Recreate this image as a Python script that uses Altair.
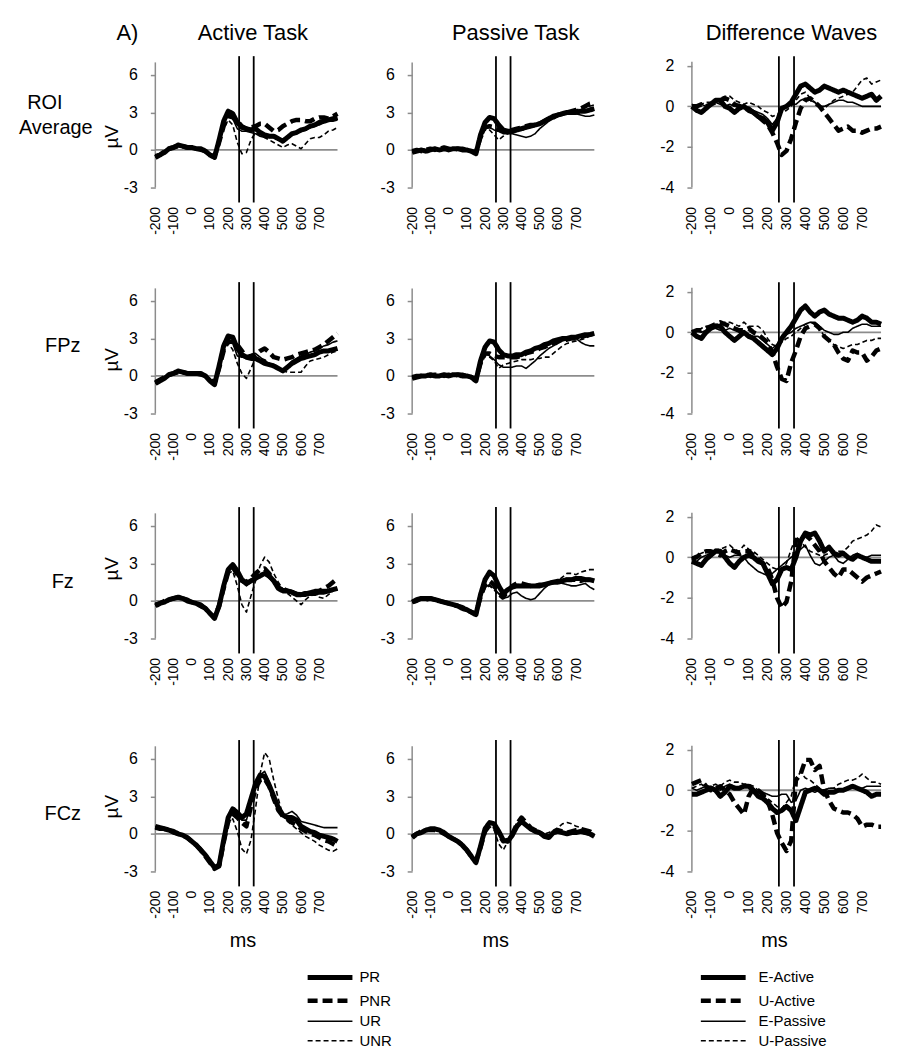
import altair as alt
import pandas as pd

FONT = "Liberation Sans"
GRAY = "#8c8c8c"

# ---------------- data ----------------
T = [-200, -175, -150, -125, -100, -75, -50, -25, 0, 25, 50, 75, 100, 125, 150, 175, 200,
     225, 250, 275, 300, 325, 350, 375, 400, 425, 450, 475, 500, 525, 550, 575, 600, 625,
     650, 675, 700, 725, 750, 775, 800]
X_TICKS = [-200, -100, 0, 100, 200, 300, 400, 500, 600, 700]
Y_TICKS_TASK = [-3, 0, 3, 6]
Y_TICKS_DIFF = [-4, -2, 0, 2]
STIM = [260, 340]
COL_TITLES = ["Active Task", "Passive Task", "Difference  Waves"]
TASK_SERIES = ["PR", "PNR", "UR", "UNR"]
DIFF_SERIES = ["E-Active", "U-Active", "E-Passive", "U-Passive"]

# ROI Average - Active
ROI_ACT_PR = [-0.6,-0.4,-0.2,0.1,0.2,0.4,0.3,0.2,0.2,0.1, 0.1,-0.1,-0.4,-0.6,0.8,2.3,3.1,2.9,2.2,1.8, 1.7,1.6,1.7,1.4,1.2,1.1,1.1,0.9,0.7,1.0, 1.3,1.4,1.6,1.7,1.9,2.0,2.2,2.3,2.4,2.5, 2.6]
ROI_ACT_PNR = [-0.5,-0.4,-0.1,0.1,0.2,0.3,0.3,0.2,0.2,0.1, 0.0,-0.1,-0.4,-0.5,0.6,1.9,2.7,2.6,2.3,1.9, 1.7,1.8,1.9,2.1,2.1,1.8,1.5,1.6,1.9,2.1, 2.3,2.4,2.4,2.3,2.3,2.5,2.6,2.6,2.5,2.7, 2.9]
ROI_ACT_UR = [-0.6,-0.3,-0.2,0.0,0.2,0.3,0.2,0.2,0.1,0.1, 0.1,-0.1,-0.4,-0.6,0.7,2.1,2.8,2.5,1.7,1.5, 1.5,1.4,1.3,1.1,1.0,1.0,1.0,0.9,0.9,1.0, 1.2,1.3,1.5,1.6,1.8,1.9,2.0,2.2,2.3,2.3, 2.4]
ROI_ACT_UNR = [-0.5,-0.3,-0.1,0.0,0.1,0.3,0.2,0.1,0.1,0.0, 0.0,-0.2,-0.4,-0.5,0.5,1.7,2.4,2.0,0.6,-0.3, -0.2,0.8,1.4,1.2,1.0,0.8,0.6,0.4,0.2,0.4, 0.5,0.3,0.1,0.5,0.9,1.0,1.0,1.2,1.5,1.6, 1.8]
# ROI Average - Passive
ROI_PAS_PR = [-0.2,-0.1,0.0,-0.1,0.0,0.1,0.0,0.1,0.0,0.1, 0.1,0.0,0.0,-0.1,-0.3,1.2,2.2,2.6,2.5,2.0, 1.6,1.5,1.5,1.6,1.7,1.8,1.9,2.0,2.1,2.3, 2.5,2.7,2.8,2.9,3.0,3.0,3.0,3.1,3.1,3.2, 3.3]
ROI_PAS_PNR = [-0.1,0.0,-0.1,0.0,0.1,0.0,0.1,0.2,0.1,0.0, 0.1,0.1,0.0,-0.1,-0.2,1.0,1.8,1.9,1.8,1.6, 1.5,1.5,1.6,1.7,1.8,1.9,2.0,2.0,2.1,2.3, 2.5,2.6,2.8,2.9,3.0,3.1,3.2,3.3,3.5,3.7, 3.8]
ROI_PAS_UR = [-0.1,0.0,0.1,0.0,0.0,0.1,0.0,0.0,0.1,0.1, 0.0,0.0,0.0,-0.1,-0.2,0.9,1.7,1.8,1.6,1.5, 1.3,1.3,1.3,1.2,1.1,1.0,1.1,1.3,1.7,2.0, 2.3,2.5,2.7,2.8,2.9,2.9,2.9,2.8,2.7,2.7, 2.8]
ROI_PAS_UNR = [-0.2,-0.1,0.0,0.1,0.0,0.0,0.1,0.2,0.1,0.0, 0.0,0.1,0.0,-0.1,-0.3,0.8,1.6,1.6,1.2,0.8, 1.1,1.3,1.4,1.5,1.6,1.7,1.8,1.9,2.1,2.3, 2.5,2.7,2.8,2.9,3.0,3.1,3.2,3.3,3.4,3.5, 3.6]
# ROI Average - Difference
ROI_DIF_EA = [0.0,-0.2,-0.3,-0.1,0.1,0.3,0.3,0.0,-0.1,-0.3, -0.1,0.0,-0.2,-0.3,-0.5,-0.6,-0.8,-1.2,-0.8,-0.1, 0.0,0.2,0.6,1.0,1.1,0.9,0.7,0.8,1.0,0.9, 0.8,0.7,0.8,0.7,0.6,0.5,0.4,0.5,0.6,0.3, 0.5]
ROI_DIF_UA = [0.0,0.0,0.1,0.0,0.1,0.2,0.3,0.4,0.3,0.1, 0.0,-0.1,-0.1,-0.3,-0.5,-0.7,-0.9,-1.3,-1.8,-2.4, -2.2,-1.6,-0.8,-0.1,0.3,0.4,0.2,0.0,-0.3,-0.6, -0.9,-1.2,-1.1,-1.0,-1.2,-1.2,-1.3,-1.2,-1.1,-1.1, -1.0]
ROI_DIF_EP = [-0.1,0.0,0.1,0.0,0.1,0.2,0.1,0.0,0.1,0.0, 0.1,0.0,-0.1,-0.2,-0.3,-0.4,-0.6,-0.9,-0.6,-0.2, 0.0,0.1,0.1,0.3,0.4,0.3,0.2,0.0,0.0,0.1, 0.2,0.3,0.3,0.2,0.2,0.1,0.0,0.0,0.0,0.0, 0.0]
ROI_DIF_UP = [0.1,0.0,0.1,0.2,0.2,0.3,0.4,0.5,0.5,0.3, 0.2,0.1,0.2,0.1,0.0,-0.2,-0.3,-0.5,-0.4,-0.3, -0.2,0.0,0.3,0.6,0.7,0.4,0.2,0.0,-0.1,0.1, 0.3,0.4,0.5,0.6,0.7,1.0,1.3,1.4,1.1,1.2, 1.3]

# FPz - Active
FPZ_ACT_PR = [-0.6,-0.4,-0.2,0.1,0.2,0.4,0.3,0.2,0.2,0.2, 0.2,0.0,-0.4,-0.7,0.8,2.4,3.2,3.1,2.2,1.7, 1.5,1.4,1.4,1.2,1.0,0.9,0.8,0.6,0.4,0.7, 1.0,1.2,1.4,1.5,1.6,1.7,1.9,2.0,2.0,2.1, 2.2]
FPZ_ACT_PNR = [-0.5,-0.3,-0.1,0.1,0.2,0.3,0.3,0.2,0.2,0.2, 0.1,0.0,-0.3,-0.6,0.6,2.0,2.8,2.7,2.5,2.0, 1.5,1.6,1.7,2.0,2.2,1.9,1.5,1.4,1.3,1.4, 1.5,1.7,1.8,1.9,2.0,2.1,2.3,2.5,2.8,3.1, 3.4]
FPZ_ACT_UR = [-0.6,-0.4,-0.2,0.0,0.1,0.3,0.3,0.2,0.2,0.1, 0.1,0.0,-0.4,-0.6,0.7,2.2,2.9,2.6,1.6,1.5, 1.5,1.7,1.8,1.5,1.2,1.0,0.9,0.7,0.5,0.8, 1.2,1.4,1.6,1.7,1.9,2.0,2.2,2.4,2.5,2.7, 2.8]
FPZ_ACT_UNR = [-0.5,-0.3,-0.1,0.0,0.1,0.3,0.2,0.1,0.1,0.1, 0.1,-0.1,-0.4,-0.6,0.5,1.9,2.6,2.1,1.0,0.2, -0.2,0.6,1.4,1.4,1.3,1.0,0.8,0.6,0.4,0.3, 0.3,0.3,0.3,0.8,1.2,1.3,1.4,1.5,1.7,1.9, 2.0]
# FPz - Passive
FPZ_PAS_PR = [-0.2,-0.1,0.0,0.0,0.1,0.0,0.0,0.1,0.0,0.1, 0.1,0.0,0.0,-0.1,-0.4,1.2,2.3,2.8,2.7,2.1, 1.7,1.6,1.6,1.7,1.7,1.9,2.0,2.2,2.3,2.5, 2.6,2.8,2.9,3.0,3.0,3.1,3.1,3.2,3.3,3.3, 3.4]
FPZ_PAS_PNR = [-0.1,0.0,0.0,0.1,0.0,0.1,0.1,0.0,0.1,0.0, 0.1,0.1,0.0,-0.1,-0.3,1.0,1.8,1.8,1.6,1.5, 1.5,1.5,1.5,1.5,1.6,1.8,1.9,2.0,2.2,2.3, 2.5,2.6,2.8,2.9,2.9,3.0,3.0,3.1,3.2,3.3, 3.5]
FPZ_PAS_UR = [-0.1,0.0,0.1,0.0,0.0,0.1,0.0,0.1,0.0,0.1, 0.0,0.0,0.0,-0.1,-0.3,0.9,1.8,1.6,1.3,0.9, 0.7,0.7,0.7,0.8,0.8,0.6,0.9,1.2,1.6,1.9, 2.2,2.4,2.6,2.8,2.9,3.0,3.0,2.7,2.5,2.4, 2.4]
FPZ_PAS_UNR = [-0.2,-0.1,0.0,0.1,0.0,0.0,0.1,0.1,0.0,0.0, 0.1,0.0,0.0,-0.1,-0.3,0.8,1.6,1.5,1.2,0.6, 0.9,1.0,1.1,1.2,1.3,1.3,1.3,1.4,1.4,1.5, 1.5,1.8,2.1,2.4,2.6,2.7,2.8,2.9,3.0,3.2, 3.3]
# FPz - Difference
FPZ_DIF_EA = [0.0,-0.2,-0.3,0.0,0.2,0.3,0.3,0.0,-0.2,-0.4, -0.2,0.0,-0.2,-0.3,-0.5,-0.7,-0.9,-1.1,-0.8,-0.3, 0.0,0.3,0.7,1.1,1.3,1.0,0.8,1.0,1.1,0.9, 0.8,0.7,0.7,0.6,0.5,0.6,0.8,0.7,0.5,0.5, 0.4]
FPZ_DIF_UA = [0.0,0.1,0.1,0.2,0.3,0.4,0.5,0.4,0.3,0.2, 0.1,0.1,0.2,0.0,-0.1,-0.3,-0.5,-1.0,-1.7,-2.3, -2.4,-1.5,-0.9,-0.2,0.2,0.3,0.4,0.2,-0.2,-0.4, -0.6,-1.0,-1.3,-1.4,-0.9,-1.0,-1.0,-1.4,-1.2,-0.9, -0.8]
FPZ_DIF_EP = [0.0,0.1,0.0,0.1,0.2,0.2,0.1,0.1,0.2,0.1, 0.0,0.0,-0.1,-0.2,-0.2,-0.4,-0.6,-0.8,-0.6,-0.3, -0.1,0.0,0.2,0.3,0.4,0.5,0.5,0.3,0.1,0.0, -0.1,-0.1,0.0,0.0,0.2,0.3,0.4,0.4,0.3,0.3, 0.3]
FPZ_DIF_UP = [0.1,0.0,0.2,0.3,0.3,0.4,0.4,0.5,0.5,0.4, 0.3,0.5,0.3,0.3,0.3,0.1,-0.3,-0.6,-0.7,-0.5, -0.3,-0.2,0.0,0.2,0.4,0.5,0.4,0.2,-0.2,-0.4, -0.6,-0.7,-0.8,-0.7,-0.6,-0.6,-0.5,-0.4,-0.4,-0.3, -0.3]

# Fz - Active
FZ_ACT_PR = [-0.4,-0.2,-0.1,0.1,0.2,0.3,0.2,0.0,-0.1,-0.2, -0.4,-0.6,-1.0,-1.4,-0.4,1.2,2.5,2.9,2.4,1.7, 1.4,1.6,1.8,2.0,2.2,2.0,1.6,1.0,0.8,0.8, 0.7,0.5,0.5,0.6,0.6,0.6,0.7,0.7,0.8,0.9, 1.0]
FZ_ACT_PNR = [-0.3,-0.2,0.0,0.1,0.2,0.3,0.2,0.1,-0.1,-0.2, -0.3,-0.6,-1.0,-1.3,-0.4,1.0,2.3,2.7,2.1,1.6, 1.5,1.8,2.2,2.5,2.6,2.2,1.6,1.2,1.0,0.8, 0.7,0.6,0.5,0.5,0.6,0.7,0.8,1.0,1.2,1.5, 1.8]
FZ_ACT_UR = [-0.4,-0.2,-0.1,0.1,0.1,0.3,0.2,0.0,-0.1,-0.3, -0.4,-0.7,-1.1,-1.4,-0.5,1.1,2.4,2.7,2.0,1.5, 1.2,1.5,1.9,2.0,2.1,1.8,1.5,1.2,1.0,0.9, 0.8,0.7,0.6,0.7,0.8,0.9,0.9,0.9,0.9,0.9, 0.9]
FZ_ACT_UNR = [-0.3,-0.2,0.0,0.1,0.2,0.3,0.2,0.1,-0.1,-0.2, -0.4,-0.6,-1.0,-1.3,-0.4,0.9,2.2,2.4,1.2,-0.3, -0.9,0.4,1.6,2.8,3.5,3.1,2.2,1.5,0.9,0.6, 0.3,0.0,-0.3,0.1,0.4,0.5,0.3,0.2,0.5,0.8, 1.0]
# Fz - Passive
FZ_PAS_PR = [-0.1,0.1,0.2,0.2,0.2,0.1,0.0,-0.1,-0.2,-0.3, -0.4,-0.6,-0.7,-0.9,-1.1,0.5,1.7,2.3,2.0,1.2, 0.6,0.9,1.1,1.2,1.2,1.2,1.2,1.2,1.2,1.3, 1.4,1.5,1.5,1.6,1.7,1.7,1.8,1.8,1.7,1.7, 1.6]
FZ_PAS_PNR = [-0.1,0.0,0.2,0.1,0.2,0.1,0.0,-0.1,-0.2,-0.3, -0.4,-0.5,-0.7,-0.9,-1.0,0.3,1.3,1.6,1.3,0.8, 0.3,0.8,1.2,1.4,1.4,1.3,1.2,1.2,1.3,1.3, 1.4,1.5,1.6,1.6,1.7,1.7,1.7,1.6,1.7,1.7, 1.7]
FZ_PAS_UR = [-0.1,0.1,0.1,0.2,0.1,0.1,0.0,-0.1,-0.2,-0.3, -0.4,-0.6,-0.7,-1.0,-1.0,0.3,1.1,1.3,1.0,0.6, 0.2,0.3,0.6,0.7,0.4,0.2,0.1,0.2,0.6,1.0, 1.3,1.4,1.5,1.4,1.3,1.2,1.2,1.3,1.4,1.1, 0.9]
FZ_PAS_UNR = [-0.1,0.0,0.1,0.2,0.2,0.1,0.0,-0.1,-0.2,-0.3, -0.4,-0.5,-0.7,-0.9,-0.9,0.3,1.0,1.2,0.9,0.4, 0.1,0.8,1.1,1.3,1.3,1.2,1.1,1.1,1.2,1.3, 1.4,1.5,1.6,1.9,2.2,2.2,2.1,2.3,2.4,2.5, 2.5]
# Fz - Difference
FZ_DIF_EA = [-0.2,-0.3,-0.4,-0.1,0.1,0.3,0.3,0.0,-0.3,-0.5, -0.2,0.0,0.1,0.0,-0.2,-0.3,-0.8,-1.3,-1.1,-0.6, -0.5,-0.6,0.0,0.8,1.2,1.1,1.2,0.8,0.3,0.5, 0.2,0.1,0.2,0.0,-0.1,0.1,0.0,-0.1,-0.2,-0.2, -0.2]
FZ_DIF_UA = [-0.1,0.0,0.2,0.3,0.3,0.2,0.1,0.3,0.4,0.3, 0.2,0.3,0.3,0.1,-0.1,-0.3,-0.5,-1.1,-2.0,-2.5, -2.2,-1.2,0.8,1.0,1.1,0.9,0.6,0.3,-0.2,-0.5, -0.8,-1.0,-0.6,-0.6,-0.8,-1.0,-1.2,-1.0,-0.9,-0.8, -0.7]
FZ_DIF_EP = [-0.1,-0.2,0.0,0.1,0.2,0.3,0.2,0.1,0.0,0.1, 0.1,0.0,-0.3,-0.5,-0.7,-0.8,-0.9,-0.8,-0.6,-0.4, -0.2,0.0,0.2,0.4,0.6,0.1,-0.3,-0.4,-0.2,0.0, 0.1,-0.2,-0.3,-0.1,0.1,0.2,0.0,0.0,0.1,0.1, 0.1]
FZ_DIF_UP = [0.0,0.1,0.2,0.3,0.3,0.4,0.4,0.5,0.6,0.4, 0.3,0.6,0.4,0.3,0.1,-0.1,-0.3,-0.5,-0.6,-0.6, -0.3,0.4,1.0,0.8,0.5,0.3,0.2,0.1,0.1,0.2, 0.3,0.3,0.3,0.5,0.8,0.9,1.0,1.1,1.3,1.6, 1.5]

# FCz - Active
FCZ_ACT_PR = [0.6,0.5,0.4,0.3,0.2,0.0,-0.1,-0.3,-0.6,-0.9, -1.3,-1.7,-2.2,-2.7,-2.5,-0.5,1.3,2.0,1.7,1.3, 1.6,2.8,4.0,4.7,4.6,3.9,3.0,2.1,1.5,1.3, 1.3,1.1,0.6,0.4,0.2,0.1,-0.1,-0.2,-0.3,-0.4, -0.6]
FCZ_ACT_PNR = [0.5,0.4,0.4,0.3,0.1,0.0,-0.1,-0.3,-0.6,-0.9, -1.3,-1.8,-2.3,-2.8,-2.6,-0.7,1.0,1.6,1.3,0.9, 0.6,2.2,3.6,4.3,4.4,3.8,2.8,1.9,1.4,1.2, 0.9,0.7,0.4,0.2,0.0,-0.1,-0.3,-0.5,-0.6,-0.8, -1.0]
FCZ_ACT_UR = [0.6,0.5,0.4,0.3,0.2,0.1,-0.1,-0.2,-0.5,-0.8, -1.2,-1.7,-2.2,-2.6,-2.5,-0.6,1.2,1.8,1.4,1.1, 1.1,2.4,3.8,4.7,5.0,4.2,3.1,2.0,1.5,1.6, 1.8,1.5,1.0,0.9,0.8,0.7,0.6,0.5,0.5,0.5, 0.5]
FCZ_ACT_UNR = [0.5,0.4,0.3,0.2,0.1,0.0,-0.2,-0.3,-0.6,-0.9, -1.3,-1.8,-2.3,-2.7,-2.5,-0.8,0.8,1.2,0.2,-1.2, -1.6,-0.5,2.0,4.8,6.5,6.0,4.3,2.8,1.5,1.0, 0.7,0.4,0.1,-0.2,-0.4,-0.6,-0.9,-1.1,-1.3,-1.4, -1.2]
# FCz - Passive
FCZ_PAS_PR = [-0.3,0.0,0.1,0.3,0.4,0.4,0.3,0.1,-0.2,-0.4, -0.6,-0.9,-1.3,-1.8,-2.3,-1.0,0.4,0.9,0.8,0.2, -0.5,-0.6,-0.1,0.6,1.0,0.7,0.4,0.2,0.1,-0.2, -0.3,0.1,0.2,0.1,0.0,0.1,0.1,0.2,0.1,0.0, -0.2]
FCZ_PAS_PNR = [-0.2,0.0,0.2,0.3,0.3,0.3,0.2,0.0,-0.2,-0.4, -0.6,-0.9,-1.3,-1.8,-2.2,-1.1,0.2,0.7,0.6,0.0, -0.6,-0.5,0.0,0.8,1.3,0.9,0.5,0.3,0.1,-0.1, -0.2,0.1,0.3,0.2,0.1,0.2,0.3,0.4,0.3,0.2, 0.0]
FCZ_PAS_UR = [-0.3,-0.1,0.1,0.2,0.3,0.3,0.2,0.0,-0.2,-0.4, -0.6,-1.0,-1.4,-1.9,-2.4,-1.2,0.3,0.8,0.7,0.1, -0.6,-0.7,-0.2,0.5,0.9,0.6,0.3,0.1,0.0,-0.3, -0.3,0.0,0.1,0.1,0.0,0.0,0.1,0.1,0.0,-0.1, -0.2]
FCZ_PAS_UNR = [-0.2,0.0,0.1,0.2,0.3,0.3,0.2,0.0,-0.2,-0.4, -0.7,-1.0,-1.4,-1.8,-2.2,-1.1,0.2,0.6,0.3,-0.8, -1.3,-0.6,0.2,0.9,1.1,0.8,0.5,0.3,0.2,0.0, 0.1,0.3,0.5,0.8,0.9,0.8,0.6,0.5,0.3,0.1, 0.0]
# FCz - Difference
FCZ_DIF_EA = [-0.2,-0.2,-0.1,0.0,0.1,0.0,-0.3,-0.1,0.2,0.1, 0.1,0.2,0.2,0.0,-0.3,-0.4,-0.6,-0.9,-1.1,-1.0, -0.8,-1.0,-1.5,-0.8,-0.1,0.0,0.1,0.0,-0.2,-0.1, -0.1,0.0,0.0,0.1,0.2,0.1,0.0,-0.1,-0.3,-0.2, -0.2]
FCZ_DIF_UA = [0.3,0.4,0.5,0.2,0.0,0.1,0.2,0.0,-0.2,-0.6, -0.9,-1.2,-0.3,0.1,0.0,-0.2,-0.5,-1.2,-2.1,-2.6, -3.0,-2.5,0.5,0.8,1.5,1.5,1.0,1.2,0.0,-0.5, -0.9,-1.0,-1.1,-1.1,-1.2,-1.4,-1.8,-1.7,-1.7,-1.8, -1.8]
FCZ_DIF_EP = [0.1,0.0,0.1,0.2,0.2,0.1,0.0,0.2,0.3,0.2, 0.1,0.2,0.2,0.1,-0.1,-0.1,-0.2,-0.3,-0.3,-0.2, -0.2,-0.6,-0.5,0.0,0.1,0.0,-0.1,0.0,0.0,0.1, 0.1,0.0,0.0,0.1,0.1,0.1,0.1,0.2,0.2,0.2, 0.2]
FCZ_DIF_UP = [0.1,0.2,0.3,0.1,0.2,0.3,0.2,0.4,0.5,0.4, 0.4,0.3,0.3,0.2,0.0,-0.2,-0.4,-0.6,-0.8,-0.9, -0.6,-0.3,0.6,0.9,0.6,0.5,0.3,0.1,0.0,0.1, 0.1,0.3,0.4,0.5,0.5,0.6,0.8,0.6,0.4,0.4, 0.3]

PANEL_DATA = [
    [dict(zip(TASK_SERIES, [ROI_ACT_PR, ROI_ACT_PNR, ROI_ACT_UR, ROI_ACT_UNR])),
     dict(zip(TASK_SERIES, [ROI_PAS_PR, ROI_PAS_PNR, ROI_PAS_UR, ROI_PAS_UNR])),
     dict(zip(DIFF_SERIES, [ROI_DIF_EA, ROI_DIF_UA, ROI_DIF_EP, ROI_DIF_UP]))],
    [dict(zip(TASK_SERIES, [FPZ_ACT_PR, FPZ_ACT_PNR, FPZ_ACT_UR, FPZ_ACT_UNR])),
     dict(zip(TASK_SERIES, [FPZ_PAS_PR, FPZ_PAS_PNR, FPZ_PAS_UR, FPZ_PAS_UNR])),
     dict(zip(DIFF_SERIES, [FPZ_DIF_EA, FPZ_DIF_UA, FPZ_DIF_EP, FPZ_DIF_UP]))],
    [dict(zip(TASK_SERIES, [FZ_ACT_PR, FZ_ACT_PNR, FZ_ACT_UR, FZ_ACT_UNR])),
     dict(zip(TASK_SERIES, [FZ_PAS_PR, FZ_PAS_PNR, FZ_PAS_UR, FZ_PAS_UNR])),
     dict(zip(DIFF_SERIES, [FZ_DIF_EA, FZ_DIF_UA, FZ_DIF_EP, FZ_DIF_UP]))],
    [dict(zip(TASK_SERIES, [FCZ_ACT_PR, FCZ_ACT_PNR, FCZ_ACT_UR, FCZ_ACT_UNR])),
     dict(zip(TASK_SERIES, [FCZ_PAS_PR, FCZ_PAS_PNR, FCZ_PAS_UR, FCZ_PAS_UNR])),
     dict(zip(DIFF_SERIES, [FCZ_DIF_EA, FCZ_DIF_UA, FCZ_DIF_EP, FCZ_DIF_UP]))],
]
for row in PANEL_DATA:
    for d in row:
        for k, v in d.items():
            assert len(v) == len(T), (k, len(v))

# ---------------- styling / layout ----------------
ALL_SERIES = TASK_SERIES + DIFF_SERIES
DASHES = [[1, 0], [10, 5], [1, 0], [5, 3], [1, 0], [10, 5], [1, 0], [5, 3]]
WIDTHS = [5, 4.5, 1.6, 1.6, 5, 4.5, 1.6, 1.6]
DASH_SCALE = alt.Scale(domain=ALL_SERIES, range=DASHES)
WIDTH_SCALE = alt.Scale(type="ordinal", domain=ALL_SERIES, range=WIDTHS)

W_TASK, W_DIFF, H = 183, 190, 147
Y_DOM_TASK = [-4.2, 7.5]
Y_DOM_DIFF = [-4.75, 2.48]
ROW_TOP = [-40, 0, 0, 0]
ROW_BOTTOM = [224, 223, 231, 219]
SPACER_X = [(-140, 216), (-40, 239), (-40, 190)]
MU_Y = [81, 78, 62, 67]
TITLE_X = [98, 104, 100]
MS_X = [88, 84, 83]
ROW_LABELS = [[("ROI", -111, 47), ("Average", -100, 72)],
              [("FPz", -93, 64)],
              [("Fz", -93, 75)],
              [("FCz", -93, 74)]]

one = pd.DataFrame({"k": [0]})


def text(s, x, y, size, angle=0):
    kw = dict(text=s, fontSize=size, font=FONT, color="black", align="center", baseline="middle")
    if angle:
        kw["angle"] = angle
    return alt.Chart(one).mark_text(**kw).encode(x=alt.value(x), y=alt.value(y))


def spacer(x1, x2, y1, y2):
    return alt.Chart(one).mark_rect(opacity=0).encode(
        x=alt.value(x1), x2=alt.value(x2), y=alt.value(y1), y2=alt.value(y2))


def panel(r, c):
    is_diff = c == 2
    W = W_DIFF if is_diff else W_TASK
    names = DIFF_SERIES if is_diff else TASK_SERIES
    data = PANEL_DATA[r][c]
    df = pd.DataFrame([{"t": t, "v": v, "series": s}
                       for s in names for t, v in zip(T, data[s])])
    xs = alt.Scale(domain=[-200, 800], nice=False, zero=False)
    ys = alt.Scale(domain=Y_DOM_DIFF if is_diff else Y_DOM_TASK, nice=False, zero=False)
    ax_lo, ax_hi = (-4, 2.2) if is_diff else (-3, 7)
    ax_x = alt.Axis(values=X_TICKS, labelAngle=270, domain=False, ticks=False, grid=False,
                    labelFontSize=14, labelPadding=4, labelOverlap=False, labelFlush=False,
                    labelFont=FONT, labelColor="black", title=None)
    ax_y = alt.Axis(values=Y_TICKS_DIFF if is_diff else Y_TICKS_TASK, domain=False, ticks=True,
                    tickSize=5, tickColor=GRAY, tickWidth=1.5, grid=False, labelFontSize=16,
                    labelPadding=13, labelFont=FONT, labelColor="black", title=None)

    lines = alt.Chart(df).mark_line(color="black", strokeCap="butt", strokeJoin="round").encode(
        x=alt.X("t:Q", scale=xs, axis=ax_x),
        y=alt.Y("v:Q", scale=ys, axis=ax_y),
        strokeDash=alt.StrokeDash("series:N", scale=DASH_SCALE, legend=None),
        strokeWidth=alt.StrokeWidth("series:N", scale=WIDTH_SCALE, legend=None),
    )
    zero_line = alt.Chart(one).mark_rule(color=GRAY, strokeWidth=1.8).encode(
        y=alt.YDatum(0, scale=ys, axis=ax_y))
    y_line = alt.Chart(one).mark_rule(color=GRAY, strokeWidth=1.5).encode(
        x=alt.XDatum(-200, scale=xs, axis=ax_x),
        y=alt.YDatum(ax_lo, scale=ys, axis=ax_y), y2=alt.Y2Datum(ax_hi))
    stim = alt.Chart(pd.DataFrame({"t": STIM})).mark_rule(color="black", strokeWidth=1.8).encode(
        x=alt.X("t:Q", scale=xs, axis=ax_x))

    layers = [zero_line, y_line, lines, stim]
    if r == 0:
        layers.append(text(COL_TITLES[c], TITLE_X[c], -23, 22))
        if c == 0:
            layers.append(text("A)", -28, -23, 22))
    if c == 0:
        layers.append(text("µV", -43, MU_Y[r], 19, angle=270))
        for s, x, y in ROW_LABELS[r]:
            layers.append(text(s, x, y, 20))
    if r == 3:
        layers.append(text("ms", MS_X[c], 202, 20))
    x1, x2 = SPACER_X[c]
    layers.append(spacer(x1, x2, ROW_TOP[r], ROW_BOTTOM[r]))
    return alt.layer(*layers).properties(width=W, height=H)


def legend_layer(names, lx, label_offset):
    leg = alt.Legend(values=names, orient="none", legendX=lx, legendY=0, title=None,
                     symbolType="M-5.625,0H5.625", symbolSize=64, symbolStrokeColor="black",
                     symbolOffset=13, labelFontSize=15, labelFont=FONT, labelColor="black",
                     rowPadding=3.5, labelOffset=label_offset, padding=0)
    return alt.Chart(pd.DataFrame({"series": names})).mark_line(color="black").encode(
        x=alt.value(0), y=alt.value(0),
        strokeDash=alt.StrokeDash("series:N", scale=DASH_SCALE, legend=leg),
        strokeWidth=alt.StrokeWidth("series:N", scale=WIDTH_SCALE, legend=leg),
    )


rows = [alt.hconcat(*[panel(r, c) for c in range(3)], spacing=0) for r in range(4)]
legend_row = alt.layer(
    spacer(-140, 0, 0, 1),
    legend_layer(TASK_SERIES, 155, 22),
    legend_layer(DIFF_SERIES, 550, 28),
).resolve_legend(strokeDash="independent", strokeWidth="independent").properties(width=1, height=1)

chart = alt.vconcat(*rows, legend_row, spacing=0).properties(
    padding={"left": 7, "top": 5, "right": 5, "bottom": 0}
).configure(
    font=FONT,
    locale={"number": {"decimal": ".", "thousands": ",", "grouping": [3],
                       "currency": ["$", ""], "minus": "-"}},
).configure_view(stroke="transparent")

chart.save("out.html", embed_options={"renderer": "svg", "actions": False})
